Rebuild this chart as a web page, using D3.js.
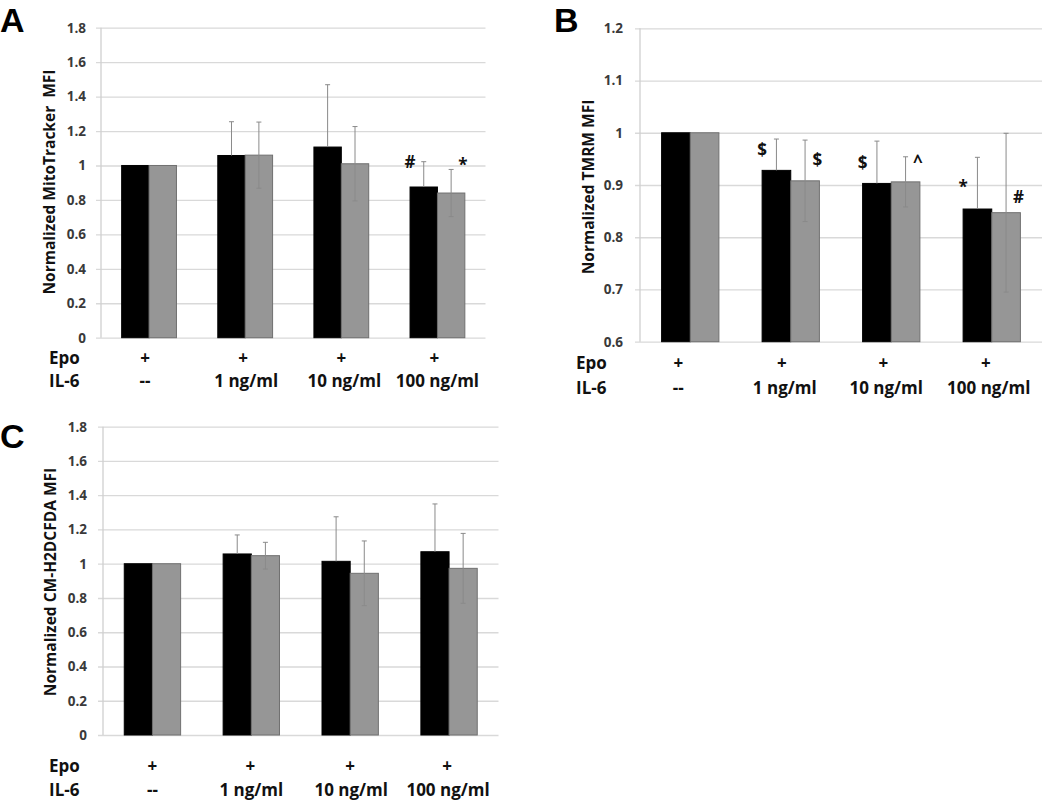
<!DOCTYPE html>
<html>
<head>
<meta charset="utf-8">
<script src="https://cdn.jsdelivr.net/npm/d3@7"></script>
<style>
  html, body { margin: 0; padding: 0; background: #fff; }
  svg { display: block; }
</style>
</head>
<body>
<svg id="chart" width="1050" height="802"></svg>
<script>
// ---------------- DATA ----------------
const epoLabels = ["+", "+", "+", "+"];
const il6Labels = ["--", "1 ng/ml", "10 ng/ml", "100 ng/ml"];
const seriesNames = ["black", "grey"];

const ticksA = [0, 0.2, 0.4, 0.6, 0.8, 1, 1.2, 1.4, 1.6, 1.8];
const ticksB = [0.6, 0.7, 0.8, 0.9, 1, 1.1, 1.2];
const ticksC = [0, 0.2, 0.4, 0.6, 0.8, 1, 1.2, 1.4, 1.6, 1.8];

// Panel A - MitoTracker
const mitoBlack    = [1.0, 1.058, 1.107, 0.875];
const mitoBlackErr = [0, 0.196, 0.362, 0.147];
const mitoGrey     = [1.0, 1.060, 1.010, 0.840];
const mitoGreyErr  = [0, 0.192, 0.216, 0.137];
const mitoMarks    = [["", ""], ["", ""], ["", ""], ["#", "*"]];
const mitoMarkLevels = [[0, 0], [0, 0], [0, 0], [0.985, 0.968]];

// Panel B - TMRM
const tmrmBlack    = [1.0, 0.928, 0.903, 0.854];
const tmrmBlackErr = [0, 0.060, 0.081, 0.099];
const tmrmGrey     = [1.0, 0.908, 0.906, 0.847];
const tmrmGreyErr  = [0, 0.078, 0.048, 0.152];
const tmrmMarks    = [["", ""], ["$", "$"], ["$", "^"], ["*", "#"]];
const tmrmMarkLevels = [[0, 0], [0.956, 0.937], [0.931, 0.933], [0.885, 0.866]];

// Panel C - CM-H2DCFDA
const dcfBlack    = [1.0, 1.057, 1.014, 1.070];
const dcfBlackErr = [0, 0.111, 0.260, 0.279];
const dcfGrey     = [1.0, 1.047, 0.944, 0.973];
const dcfGreyErr  = [0, 0.078, 0.189, 0.204];
const dcfMarks    = [["", ""], ["", ""], ["", ""], ["", ""]];
const dcfMarkLevels = [[0, 0], [0, 0], [0, 0], [0, 0]];

// ---------------- DRAWING ----------------
const svg = d3.select("#chart");
const FONT = "'Open Sans', 'Liberation Sans', sans-serif";

function drawPanel(opt) {
  const g = svg.append("g");
  const x = d3.scaleBand()
    .domain(d3.range(il6Labels.length))
    .range([opt.x0, opt.x1])
    .paddingInner(0.43)
    .paddingOuter(0.215);
  const sub = d3.scaleBand().domain(seriesNames).range([0, x.bandwidth()]);
  const y = d3.scaleLinear().domain(opt.domain).range([opt.yBottom, opt.yTop]);

  // gridlines + tick labels
  const axis = d3.axisLeft(y).tickValues(opt.ticks)
    .tickSize(-(opt.x1 - opt.x0 + 5)).tickFormat(d3.format("~g"));
  const ag = g.append("g").attr("transform", `translate(${opt.x0 - 5},0)`).call(axis);
  ag.select(".domain").remove();
  ag.selectAll(".tick line").attr("stroke", "#d9d9d9").attr("stroke-width", 1.3)
    .attr("x1", 0).attr("x2", opt.x1 - opt.x0 + 5);
  ag.selectAll(".tick text")
    .attr("x", opt.tickTextShift)
    .attr("font-family", FONT).attr("font-size", 13.5).attr("font-weight", "bold")
    .attr("fill", "#3a3a3a");

  // vertical axis line
  g.append("line")
    .attr("x1", opt.x0).attr("x2", opt.x0)
    .attr("y1", y(opt.domain[1])).attr("y2", y(opt.domain[0]))
    .attr("stroke", "#cfcfcf").attr("stroke-width", 1.3);

  const series = [
    { name: "black", vals: opt.black, errs: opt.blackErr, fill: "#000", stroke: "#000", minus: false },
    { name: "grey",  vals: opt.grey,  errs: opt.greyErr,  fill: "#969696", stroke: "#707070", minus: true }
  ];

  series.forEach(s => {
    g.selectAll(null).data(s.vals).join("rect")
      .attr("x", (d, i) => x(i) + sub(s.name))
      .attr("width", sub.bandwidth())
      .attr("y", d => y(d))
      .attr("height", d => y(opt.domain[0]) - y(d))
      .attr("fill", s.fill).attr("stroke", s.stroke).attr("stroke-width", 1);
  });

  // error bars
  series.forEach(s => {
    s.vals.forEach((v, i) => {
      const e = s.errs[i];
      if (!e) return;
      const cx = x(i) + sub(s.name) + sub.bandwidth() / 2;
      const top = y(v + e);
      const bot = s.minus ? y(v - e) : y(v);
      g.append("line").attr("x1", cx).attr("x2", cx).attr("y1", top).attr("y2", bot)
        .attr("stroke", "#8a8a8a").attr("stroke-width", 1);
      g.append("line").attr("x1", cx - 2.5).attr("x2", cx + 2.5).attr("y1", top).attr("y2", top)
        .attr("stroke", "#8a8a8a").attr("stroke-width", 1);
      if (s.minus) {
        g.append("line").attr("x1", cx - 2.5).attr("x2", cx + 2.5).attr("y1", bot).attr("y2", bot)
          .attr("stroke", "#8a8a8a").attr("stroke-width", 1);
      }
    });
  });

  // significance marks
  opt.marks.forEach((pair, i) => {
    pair.forEach((m, si) => {
      if (!m) return;
      const bx = si === 0 ? x(i) + sub("black") : x(i) + sub("grey") + sub.bandwidth() - 2;
      g.append("text").attr("x", bx).attr("y", y(opt.markLevels[i][si]))
        .attr("text-anchor", "middle")
        .attr("font-family", FONT).attr("font-size", 17).attr("font-weight", "bold")
        .attr("fill", "#111").text(m);
    });
  });

  // y title
  g.append("text")
    .attr("transform", `translate(${opt.titleX},${opt.titleY}) rotate(-90)`)
    .attr("text-anchor", "middle").attr("dominant-baseline", "middle")
    .attr("font-family", FONT).attr("font-size", 15.5).attr("font-weight", "bold")
    .attr("fill", "#111").style("white-space", "pre")
    .text(opt.title);

  // panel letter
  g.append("text").attr("x", opt.letterX).attr("y", opt.letterY)
    .attr("font-family", "'Liberation Sans', Arial, sans-serif").attr("font-size", 34)
    .attr("font-weight", "bold").attr("fill", "#000").text(opt.letter);

  // Epo / IL-6 rows
  const rowFont = sel => sel.attr("font-family", FONT).attr("font-size", 17)
    .attr("font-weight", "bold").attr("fill", "#111");
  g.append("text").attr("x", opt.rowLabelX).attr("y", opt.epoY).text("Epo").call(rowFont);
  g.append("text").attr("x", opt.rowLabelX).attr("y", opt.il6Y).text("IL-6").call(rowFont);
  g.selectAll(null).data(epoLabels).join("text")
    .attr("x", (d, i) => x(i) + x.bandwidth() / 2 + opt.plusShift[i])
    .attr("y", opt.epoY).attr("text-anchor", "middle").text(d => d).call(rowFont);
  g.selectAll(null).data(il6Labels).join("text")
    .attr("x", (d, i) => x(i) + x.bandwidth() / 2 + opt.plusShift[i] + (i === 0 ? 0 : opt.labelShift))
    .attr("y", opt.il6Y).attr("text-anchor", "middle").text(d => d).call(rowFont);
}

drawPanel({
  letter: "A", letterX: 0, letterY: 32,
  x0: 101, x1: 485.5, yTop: 27.7, yBottom: 337.7, domain: [0, 1.8], ticks: ticksA,
  tickTextShift: -10,
  black: mitoBlack, blackErr: mitoBlackErr, grey: mitoGrey, greyErr: mitoGreyErr,
  marks: mitoMarks, markLevels: mitoMarkLevels,
  title: "Normalized MitoTracker  MFI", titleX: 51, titleY: 182,
  rowLabelX: 49, epoY: 364, il6Y: 387,
  plusShift: [-4, -2, 0, -3], labelShift: 3
});

drawPanel({
  letter: "B", letterX: 554, letterY: 32,
  x0: 640, x1: 1042, yTop: 28.3, yBottom: 341.7, domain: [0.6, 1.2], ticks: ticksB,
  tickTextShift: -12,
  black: tmrmBlack, blackErr: tmrmBlackErr, grey: tmrmGrey, greyErr: tmrmGreyErr,
  marks: tmrmMarks, markLevels: tmrmMarkLevels,
  title: "Normalized TMRM MFI", titleX: 590, titleY: 187,
  rowLabelX: 576, epoY: 369, il6Y: 394,
  plusShift: [-12, -9, -8, -6], labelShift: 3
});

drawPanel({
  letter: "C", letterX: 0, letterY: 448,
  x0: 103, x1: 498.5, yTop: 426.7, yBottom: 735, domain: [0, 1.8], ticks: ticksC,
  tickTextShift: -11,
  black: dcfBlack, blackErr: dcfBlackErr, grey: dcfGrey, greyErr: dcfGreyErr,
  marks: dcfMarks, markLevels: dcfMarkLevels,
  title: "Normalized CM-H2DCFDA MFI", titleX: 52, titleY: 582,
  rowLabelX: 49, epoY: 772, il6Y: 796,
  plusShift: [0, -1, 0, -2], labelShift: 1
});
</script>
</body>
</html>
